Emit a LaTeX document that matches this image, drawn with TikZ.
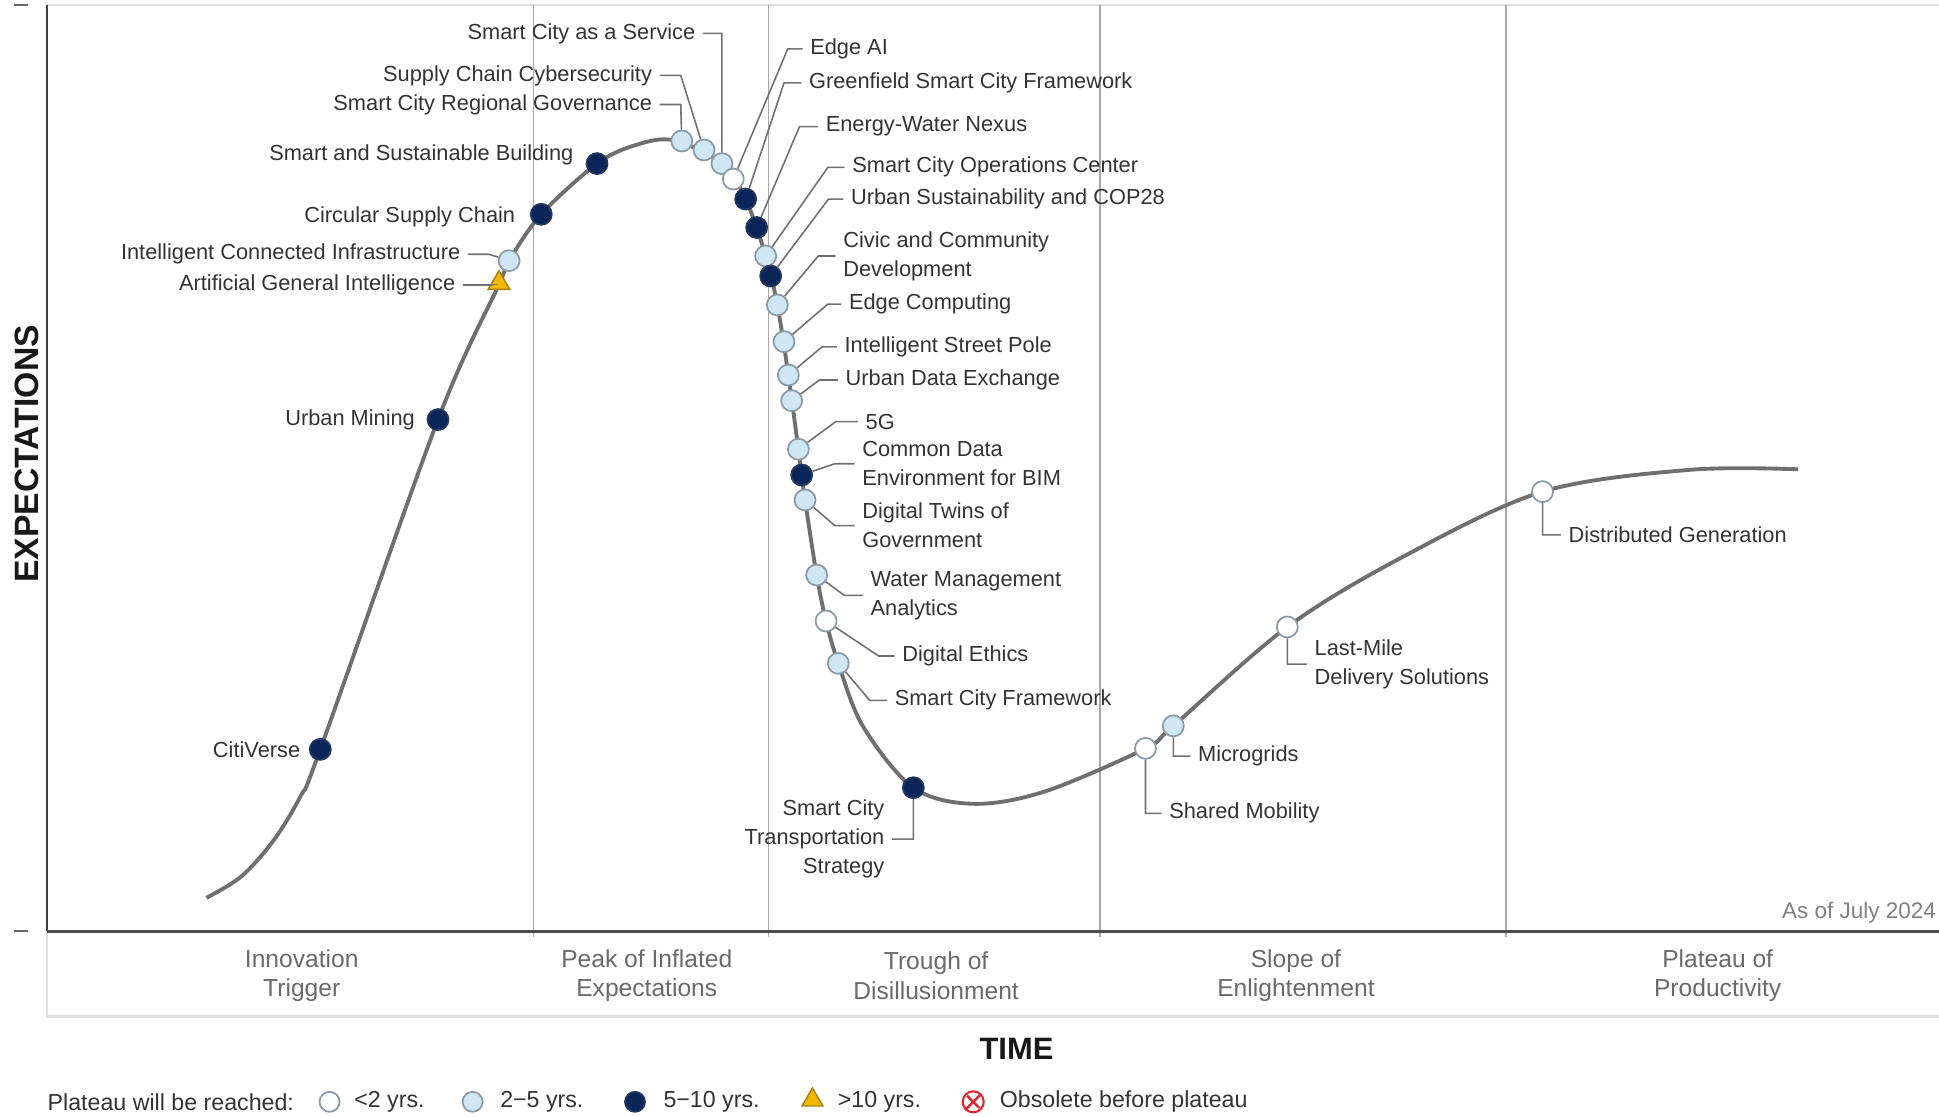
\documentclass[tikz,border=0pt]{standalone}
\usepackage{fontspec}
\setmainfont{Liberation Sans}
\usetikzlibrary{positioning,shapes.geometric}
\definecolor{curvegray}{HTML}{6F6F6F}
\definecolor{leadgray}{HTML}{707070}
\definecolor{navy}{HTML}{0A2557}
\definecolor{paleblue}{HTML}{CFE7F5}
\definecolor{rimgray}{HTML}{8C9AA5}
\definecolor{gold}{HTML}{F2B705}
\definecolor{txtgray}{HTML}{333333}
\definecolor{phasegray}{HTML}{6A6A6A}
\definecolor{sepgray}{HTML}{A8A8A8}
\definecolor{obsred}{HTML}{E2262F}

\begin{document}
\begin{tikzpicture}[x=0.12366mm,y=-0.12366mm,
	dot/.style={circle,draw=rimgray,line width=0.5pt,minimum size=2.1mm,inner sep=0pt},
	whitedot/.style={dot,fill=white},
	bluedot/.style={dot,fill=paleblue},
	navydot/.style={dot,draw=navy!80!gray,fill=navy},
	tri/.style={regular polygon,regular polygon sides=3,draw=gold!70!black,fill=gold,line width=0.4pt,minimum size=2.5mm,inner sep=0pt},
	lbl/.style={text=txtgray,font=\fontsize{6.2pt}{8.2pt}\selectfont,inner xsep=2pt,inner ysep=0pt,align=left},
	lead/.style={draw=leadgray,line width=0.45pt},
	phase/.style={text=phasegray,font=\fontsize{7pt}{8.3pt}\selectfont,align=center,inner sep=0pt},
	legtxt/.style={text=txtgray,font=\fontsize{6.6pt}{8pt}\selectfont,inner sep=0pt,anchor=west}]
	\useasboundingbox (0,0) rectangle (1568,903);

	\draw[gray!25,line width=0.8pt] (38,4) -- (1568,4);
	\draw[gray!25,line width=0.8pt] (38,753) -- (38,822) -- (1568,822);
	\foreach \sx in {431.5,621.5,889.5,1218}
		\draw[sepgray,line width=0.5pt] (\sx,4) -- (\sx,758);
	\draw[black!75,line width=0.6pt] (38,4) -- (38,753);
	\draw[black!70,line width=0.9pt] (38,753) -- (1568,753);
	\draw[black!60,line width=0.5pt] (11,4) -- (23,4) (11,753) -- (23,753);

	\node[rotate=90,text=black!90,font=\fontsize{9.6pt}{11pt}\selectfont\bfseries] (yax) at (22,367) {EXPECTATIONS};
	\node[text=black!90,font=\fontsize{8.8pt}{10pt}\selectfont\bfseries] (xax) at (822,848) {TIME};
	\node[text=gray,font=\fontsize{6.4pt}{8pt}\selectfont,anchor=east,inner sep=0pt] (asof) at (1566,738) {As of July 2024};

	\node[phase] (ph1) at (244,789) {Innovation\\Trigger};
	\node[phase] (ph2) at (523,789) {Peak of Inflated\\Expectations};
	\node[phase] (ph3) at (757,789) {Trough of\\Disillusionment};
	\node[phase] (ph4) at (1048,789) {Slope of\\Enlightenment};
	\node[phase] (ph5) at (1389,789) {Plateau of\\Productivity};

	\draw[curvegray,line width=1.1pt] plot[smooth,tension=0.55] coordinates {(167,726) (195.2,708.7) (221.3,679.5) (243.2,643.6) (259,606) (354.2,339.3) (403.5,230) (411.7,210.8) (437.7,173.3) (482.8,132.3) (515,117) (545,113.5) (583.8,132.3) (603,161) (619.2,207) (628.6,246.6) (637.5,303.3) (645.6,363.3) (651,404.3) (660.4,465) (668,502.2) (677.9,536.4) (698,587.6) (738.6,637) (787,650) (845,640) (926.3,605.2) (948.8,587) (1041,507) (1135,450) (1247.4,397.6) (1365.5,380) (1454,379.5)};

	\node[navydot] (cv) at (259,606) {};
	\node[navydot] (um) at (354.2,339.3) {};
	\node[tri] (agi) at (403.5,229) {};
	\node[bluedot] (ici) at (411.7,210.8) {};
	\node[navydot] (csc) at (437.7,173.3) {};
	\node[navydot] (ssb) at (482.8,132.3) {};
	\node[bluedot] (scrg) at (551.3,114) {};
	\node[bluedot] (scc) at (569.3,121.3) {};
	\node[bluedot] (scaas) at (583.8,132.3) {};
	\node[whitedot] (eai) at (593,144.8) {};
	\node[navydot] (gscf) at (603,161) {};
	\node[navydot] (ewn) at (611.9,184) {};
	\node[bluedot] (scoc) at (619.2,207) {};
	\node[navydot] (cop) at (623.2,223.2) {};
	\node[bluedot] (ccd) at (628.6,246.6) {};
	\node[bluedot] (ec) at (634,276.3) {};
	\node[bluedot] (isp) at (637.5,303.3) {};
	\node[bluedot] (ude) at (640.2,324) {};
	\node[bluedot] (fg) at (645.6,363.3) {};
	\node[navydot] (cde) at (648.3,384.1) {};
	\node[bluedot] (dtg) at (651,404.3) {};
	\node[bluedot] (wma) at (660.4,465) {};
	\node[whitedot] (de) at (668,502.2) {};
	\node[bluedot] (scf) at (677.9,536.4) {};
	\node[navydot] (scts) at (738.6,637) {};
	\node[whitedot] (sm) at (926.3,605.2) {};
	\node[bluedot] (mg) at (948.8,587) {};
	\node[whitedot] (lm) at (1041,507) {};
	\node[whitedot] (dg) at (1247.4,397.6) {};

	\node[lbl,left=0.1mm of cv] (cvl) {CitiVerse};
	\node[lbl,left=0.4mm of um] (uml) {Urban Mining};
	\node[lbl,anchor=east] (agil) at (374.4,230.5) {Artificial General Intelligence};
	\node[lbl,anchor=east] (icil) at (378.4,205.6) {Intelligent Connected Infrastructure};
	\node[lbl,left=0.7mm of csc,yshift=-0.3mm] (cscl) {Circular Supply Chain};
	\node[lbl,anchor=east] (ssbl) at (469.9,125) {Smart and Sustainable Building};
	\node[lbl,anchor=east] (scrgl) at (533.5,84.5) {Smart City Regional Governance};
	\node[lbl,anchor=east] (sccl) at (533.5,61) {Supply Chain Cybersecurity};
	\node[lbl,anchor=east] (scaasl) at (568.5,27) {Smart City as a Service};
	\node[lbl,anchor=west] (eail) at (649,39.5) {Edge AI};
	\node[lbl,anchor=west] (gscfl) at (648,67) {Greenfield Smart City Framework};
	\node[lbl,anchor=west] (ewnl) at (661.5,102.4) {Energy-Water Nexus};
	\node[lbl,anchor=west] (scocl) at (683,135.3) {Smart City Operations Center};
	\node[lbl,anchor=west] (copl) at (682,161) {Urban Sustainability and COP28};
	\node[lbl,anchor=west] (ccdl) at (675.7,207) {Civic and Community\\Development};
	\node[lbl,anchor=west] (ecl) at (680.3,246) {Edge Computing};
	\node[lbl,anchor=west] (ispl) at (676.8,280.5) {Intelligent Street Pole};
	\node[lbl,anchor=west] (udel) at (677.6,307.3) {Urban Data Exchange};
	\node[lbl,anchor=west] (fgl) at (693.8,341) {5G};
	\node[lbl,anchor=west] (cdel) at (691.1,375) {Common Data\\Environment for BIM};
	\node[lbl,anchor=west] (dtgl) at (691.1,425) {Digital Twins of\\Government};
	\node[lbl,anchor=west] (wmal) at (697.8,481.5) {Water Management\\Analytics};
	\node[lbl,anchor=west] (del) at (723.5,530.5) {Digital Ethics};
	\node[lbl,anchor=west] (scfl) at (717.3,566.3) {Smart City Framework};
	\node[lbl,anchor=east,align=right] (sctsl) at (721.4,678.5) {Smart City\\Transportation\\Strategy};
	\node[lbl,anchor=west] (sml) at (939.3,657.7) {Shared Mobility};
	\node[lbl,anchor=west] (mgl) at (962.6,611.5) {Microgrids};
	\node[lbl,anchor=west] (lml) at (1056.9,537) {Last-Mile\\Delivery Solutions};
	\node[lbl,anchor=west] (dgl) at (1262.3,432.6) {Distributed Generation};

	\draw[lead] (agil.east) -- ++(22,0) -- (agi)
		(icil.east) -- ++(17,0) -- (ici)
		(scrgl.east) -- ++(17,0) -- (scrg)
		(sccl.east) -- ++(17,0) -- (scc)
		(scaasl.east) -| (scaas)
		(eail.west) -- ++(-12,0) -- (eai)
		(gscfl.west) -- ++(-14,0) -- (gscf)
		(ewnl.west) -- ++(-15,0) -- (ewn)
		(scocl.west) -- ++(-13.5,0) -- (scoc)
		(copl.west) -- ++(-12,0) -- (cop)
		(ccdl.west) -- ++(-14,0) -- (ccd)
		(ecl.west) -- ++(-11,0) -- (ec)
		(ispl.west) -- ++(-12,0) -- (isp)
		(udel.west) -- ++(-15,0) -- (ude)
		(fgl.west) -- ++(-18,0) -- (fg)
		(cdel.west) -- ++(-16,0) -- (cde)
		(dtgl.west) -- ++(-16,0) -- (dtg)
		(wmal.west) -- ++(-15,0) -- (wma)
		(del.west) -- ++(-13,0) -- (de)
		(scfl.west) -- ++(-14,0) -- (scf)
		(sctsl.east) -| (scts)
		(sm) |- (sml.west)
		(mg) |- (mgl.west)
		(lm) |- (lml.west)
		(dg) |- (dgl.west);

	\node[legtxt] (leg) at (38,891) {Plateau will be reached:};
	\node[whitedot,minimum size=2mm] (leg1) at (266.5,891) {};
	\node[legtxt] (leg1l) at (286,891) {<2 yrs.};
	\node[bluedot,minimum size=2mm] (leg2) at (382.2,891) {};
	\node[legtxt] (leg2l) at (404,891) {2−5 yrs.};
	\node[navydot,minimum size=2mm] (leg3) at (513.5,891) {};
	\node[legtxt] (leg3l) at (536,891) {5−10 yrs.};
	\node[tri,minimum size=2.4mm] (leg4) at (657,889.5) {};
	\node[legtxt] (leg4l) at (677,891) {>10 yrs.};
	\node[circle,draw=obsred,fill=white,line width=0.6pt,minimum size=2.1mm,inner sep=0pt] (obs) at (787,891) {};
	\draw[obsred,line width=0.7pt,shorten <=0.3mm,shorten >=0.3mm] (obs.45) -- (obs.225) (obs.135) -- (obs.315);
	\node[legtxt] (obsl) at (808,891) {Obsolete before plateau};
\end{tikzpicture}
\end{document}
